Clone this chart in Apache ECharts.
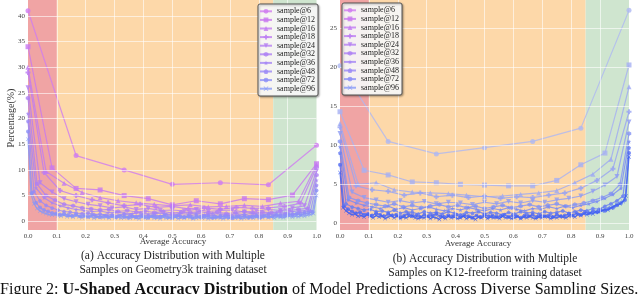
<!DOCTYPE html>
<html><head><meta charset="utf-8">
<script src="https://cdn.jsdelivr.net/npm/echarts@6/dist/echarts.min.js"></script>
<style>html,body{margin:0;padding:0;background:#fff}#c{width:640px;height:294px}</style>
</head><body><div id="c"></div>
<script>
// ---------- data ----------
const seriesNames = ['sample@6','sample@12','sample@16','sample@18','sample@24','sample@32','sample@36','sample@48','sample@72','sample@96'];
const xTicks = [0,0.1,0.2,0.3,0.4,0.5,0.6,0.7,0.8,0.9,1.0];
const yTicksA = [0,5,10,15,20,25,30,35,40];
const yTicksB = [0,5,10,15,20,25];
const regionBounds = [0,0.1,0.85,1.0];

// (a) Geometry3k
const geo6  = [41.0,12.8,10.0,7.2,7.5,7.1,14.8];
const geo12 = [34.0,10.4,6.4,6.1,5.0,4.4,3.2,4.0,3.4,4.4,4.2,5.1,11.2];
const geo16 = [30.0,9.7,7.4,5.6,4.6,4.0,3.6,3.3,3.0,3.2,2.8,2.9,3.1,2.9,3.5,3.9,11.0];
const geo18 = [29.0,9.5,6.0,5.0,4.2,3.6,3.0,3.3,2.7,2.9,2.4,2.6,2.3,2.7,2.5,2.6,2.9,3.5,10.5];
const geo24 = [26.0,7.5,5.7,4.4,3.8,3.3,3.0,2.6,2.8,2.3,2.5,2.1,2.2,2.0,2.3,1.9,2.1,2.2,1.8,2.0,2.3,2.1,2.6,3.0,9.8];
const geo32 = [24.0,7.3,5.0,4.1,3.3,3.0,2.6,2.4,2.2,2.3,1.9,2.1,1.8,2.0,1.7,1.9,1.6,1.8,1.7,1.9,1.6,1.8,1.5,1.7,1.9,1.6,1.8,1.7,2.0,2.1,2.3,2.5,9.0];
const geo36 = [21.0,6.5,4.6,3.6,3.0,2.6,2.3,2.1,1.9,2.0,1.7,1.8,1.6,1.5,1.7,1.4,1.6,1.5,1.3,1.5,1.4,1.6,1.3,1.5,1.4,1.2,1.5,1.3,1.6,1.4,1.5,1.7,1.6,1.9,2.0,2.2,8.0];
const geo48 = [19.5,5.8,4.0,3.1,2.6,2.2,1.9,1.8,1.6,1.5,1.6,1.3,1.4,1.2,1.3,1.1,1.4,1.2,1.0,1.3,1.1,1.2,1.0,1.3,1.1,1.2,0.9,1.1,1.3,1.0,1.2,1.1,0.9,1.2,1.0,1.1,1.3,1.0,1.2,1.1,1.4,1.2,1.3,1.5,1.4,1.7,1.8,2.0,7.0];
const geo72 = [17.5,5.5,3.6,2.7,2.2,1.9,1.6,1.5,1.3,1.4,1.2,1.1,1.3,1.0,1.1,0.9,1.2,1.0,0.8,1.1,0.9,1.0,0.8,1.1,0.9,0.7,1.0,0.8,1.0,0.9,0.7,1.0,0.8,0.9,1.1,0.8,0.7,1.0,0.9,0.8,1.0,0.7,0.9,0.8,1.0,0.9,0.7,0.8,1.0,0.9,0.8,0.6,0.9,0.8,1.0,0.7,0.9,1.0,0.8,1.1,0.9,1.0,1.2,1.0,1.1,1.3,1.2,1.4,1.3,1.5,1.6,1.8,6.0];
const geo96 = [16.0,5.3,3.4,2.5,2.0,1.7,1.5,1.3,1.2,1.3,1.1,1.0,1.2,0.9,1.0,0.8,1.1,0.9,0.7,1.0,
  0.8,0.9,0.6,0.8,1.0,0.7,0.8,0.6,0.9,0.7,0.8,0.6,0.7,0.9,0.6,0.8,0.7,0.5,0.8,0.6,
  0.7,0.9,0.6,0.7,0.5,0.8,0.6,0.7,0.6,0.8,0.5,0.7,0.6,0.8,0.7,0.5,0.6,0.8,0.6,0.7,
  0.5,0.7,0.6,0.8,0.6,0.5,0.7,0.6,0.8,0.6,0.7,0.5,0.6,0.8,0.7,0.6,0.8,0.6,0.7,0.9,
  0.7,0.8,0.6,0.9,0.8,0.7,0.9,1.0,0.8,1.0,0.9,1.1,1.0,1.2,1.3,1.5,5.0];

// (b) K12-freeform
const k6  = [20.2,10.5,8.9,9.7,10.5,12.2,27.3];
const k12 = [14.3,6.8,6.2,5.3,5.2,5.0,4.9,4.8,4.8,5.5,7.5,9.0,20.3];
const k16 = [12.8,5.0,5.2,4.3,4.0,3.9,3.8,3.6,3.4,3.5,3.7,3.9,4.2,5.2,6.3,8.2,17.5];
const k18 = [12.3,4.8,4.3,4.1,3.6,3.9,3.4,3.6,3.3,3.5,3.2,3.4,3.3,3.6,3.9,4.5,5.5,7.0,14.3];
const k24 = [11.5,4.0,3.3,3.0,2.7,2.9,2.6,2.8,2.5,2.7,2.6,2.4,2.7,2.5,2.8,2.6,2.9,2.7,3.0,3.2,3.5,4.1,4.9,6.0,13.0];
const k32 = [10.5,3.3,2.9,2.6,2.4,2.2,2.5,2.1,2.3,2.0,2.2,2.4,2.1,2.3,2.0,2.2,1.9,2.1,2.3,2.0,2.2,2.4,2.1,2.3,2.5,2.2,2.4,2.6,2.9,3.3,3.8,5.0,11.5];
const k36 = [9.8,3.0,2.6,2.3,2.1,1.9,2.2,1.8,2.0,1.7,1.9,2.1,1.8,1.6,1.9,1.7,2.0,1.8,1.6,1.9,1.7,2.0,1.8,1.6,1.9,1.8,2.1,1.9,2.2,2.0,2.3,2.5,2.8,3.2,3.7,4.5,10.5];
const k48 = [9.0,2.5,2.1,1.9,1.7,1.8,1.5,1.6,1.4,1.7,1.3,1.5,1.4,1.2,1.5,1.3,1.4,1.2,1.5,1.3,1.1,1.4,1.3,1.5,1.2,1.4,1.3,1.1,1.4,1.2,1.5,1.3,1.4,1.2,1.5,1.3,1.4,1.6,1.3,1.5,1.7,1.6,1.9,1.8,2.2,2.5,2.9,3.5,9.7];
const k72 = [7.5,2.2,1.8,1.5,1.3,1.4,1.1,1.2,1.0,1.3,1.1,0.9,1.2,1.0,1.1,0.8,1.0,1.2,0.9,1.0,0.8,1.1,0.9,1.0,1.2,0.9,0.8,1.0,0.9,1.1,0.8,1.0,0.9,0.7,1.0,0.8,1.1,0.9,1.0,0.8,0.9,1.1,0.8,1.0,0.9,0.7,1.0,0.9,1.1,0.8,1.0,0.9,1.0,0.8,1.1,0.9,1.0,1.2,1.0,1.3,1.1,1.4,1.3,1.5,1.4,1.7,1.6,1.9,2.0,2.3,2.6,3.0,9.0];
const k96 = [6.5,2.0,1.6,1.3,1.1,1.2,0.9,1.0,0.8,1.1,0.9,0.7,1.0,0.8,0.9,0.6,0.8,1.0,0.7,0.9,
  0.6,0.8,0.7,0.9,1.0,0.7,0.6,0.8,0.7,0.9,0.6,0.8,0.7,0.5,0.8,0.6,0.9,0.7,0.8,0.6,
  0.7,0.9,0.6,0.8,0.7,0.5,0.8,0.7,0.9,0.6,0.8,0.7,0.8,0.6,0.9,0.7,0.8,0.6,0.7,0.9,
  0.6,0.8,0.7,0.9,0.7,0.6,0.8,0.7,0.9,0.8,0.6,0.8,0.7,0.9,0.8,0.7,0.9,1.0,0.8,1.1,
  1.0,1.2,1.1,1.3,1.2,1.5,1.4,1.6,1.8,1.7,2.0,2.2,2.4,2.5,2.8,3.5,8.5];

const geoData = [geo6,geo12,geo16,geo18,geo24,geo32,geo36,geo48,geo72,geo96];
const k12Data = [k6,k12,k16,k18,k24,k32,k36,k48,k72,k96];

// ---------- styles ----------
const FONT = '"Liberation Serif", "DejaVu Serif", serif';
const colorsA = ['#d07cf0','#c878f0','#c27af2','#bc7cf2','#b47ef3','#ac80f4','#a484f5','#9a88f6','#8c8ef8','#8698f8'];
const colorsB = ['#aeb8f2','#a6b0f2','#9ea9f2','#97a3f2','#8e9cf2','#8494f2','#788af2','#687ef2','#526bf2','#3a5cf2'];
const symbols = [
  'circle','rect','triangle',
  'path://M3,0H7V3H10V7H7V10H3V7H0V3H3Z',
  'path://M0,0L10,0L5,9Z',
  'path://M5,0L9.3,2.5L9.3,7.5L5,10L0.7,7.5L0.7,2.5Z',
  'path://M5,0L6.2,3.6L10,3.8L7,6.1L8.1,9.8L5,7.6L1.9,9.8L3,6.1L0,3.8L3.8,3.6Z',
  'path://M5,0L10,3.6L8.1,9.5L1.9,9.5L0,3.6Z',
  'circle',
  'path://M0,1L1,0L5,4L9,0L10,1L6,5L10,9L9,10L5,6L1,10L0,9L4,5Z'
];
const symSizes = [5,5,5,5,5,4.5,4.5,4,4,4];
const regionColors = ['#f0a4a4','#fdd8a9','#cfe5cf'];

function toPairs(arr){ const n = arr.length - 1; return arr.map((v,i)=>[i/n, v]); }

function build(gi, data, colors, yTicks){
  const s = [];
  const areas = [];
  for (let i=0;i<regionBounds.length-1;i++){
    areas.push([{xAxis:regionBounds[i], itemStyle:{color:regionColors[i], opacity:1}},{xAxis:regionBounds[i+1]}]);
  }
  s.push({type:'line', xAxisIndex:gi, yAxisIndex:gi, data:[], z:1, silent:true,
    markArea:{silent:true, data:areas}});
  const gl = [];
  xTicks.slice(1,-1).forEach(v=>gl.push({xAxis:v}));
  yTicks.forEach(v=>gl.push({yAxis:v}));
  s.push({type:'line', xAxisIndex:gi, yAxisIndex:gi, data:[], z:2, silent:true,
    markLine:{silent:true, symbol:['none','none'], label:{show:false}, animation:false,
      lineStyle:{color:'#ffffff', width:1, type:'solid', opacity:0.6}, data:gl}});
  data.forEach((arr,i)=>{
    s.push({type:'line', name:seriesNames[i], xAxisIndex:gi, yAxisIndex:gi, z:3,
      data:toPairs(arr), symbol:symbols[i], symbolSize:symSizes[i], showAllSymbol:true,
      lineStyle:{color:colors[i], width:1.2, opacity:0.8},
      itemStyle:{color:colors[i], opacity:0.8}, animation:false});
  });
  return s;
}

const chart = echarts.init(document.getElementById('c'), null, {renderer:'canvas'});
const axisLbl = {fontFamily:FONT, fontSize:7, color:'#444'};
const option = {
  animation:false,
  grid:[
    {left:28, top:0, width:288.5, height:230},
    {left:340, top:0, width:289, height:230}
  ],
  xAxis:[0,1].map(gi=>({gridIndex:gi, type:'value', min:0, max:1, interval:0.1,
    axisLine:{show:false}, axisTick:{show:false}, splitLine:{show:false},
    axisLabel:Object.assign({margin:3, formatter:v=>v.toFixed(1)}, axisLbl)})),
  yAxis:[
    {gridIndex:0, type:'value', min:-1.7, max:43.1, axisLine:{show:false}, splitLine:{show:false},
     axisTick:{show:false, customValues:yTicksA},
     axisLabel:Object.assign({margin:3, customValues:yTicksA}, axisLbl)},
    {gridIndex:1, type:'value', min:-0.86, max:28.63, axisLine:{show:false}, splitLine:{show:false},
     axisTick:{show:false, customValues:yTicksB},
     axisLabel:Object.assign({margin:3, customValues:yTicksB}, axisLbl)}
  ],
  legend:[0,1].map(gi=>({
    data:seriesNames.map(n=>n), orient:'vertical', z:10,
    left: gi===0 ? 258 : 342, top: gi===0 ? 4 : 3,
    itemWidth:12, itemHeight:6, itemGap:0, padding:[3,3,3,1],
    backgroundColor:'rgba(255,255,255,0.9)', borderColor:'#555', borderWidth:1, borderRadius:2,
    shadowColor:'rgba(0,0,0,0.35)', shadowBlur:2, shadowOffsetX:1, shadowOffsetY:1,
    textStyle:{fontFamily:FONT, fontSize:8, color:'#222', lineHeight:8.6},
    selectedMode:false
  })),
  series:[].concat(build(0, geoData, colorsA, yTicksA), build(1, k12Data, colorsB, yTicksB)),
  graphic:[
    {type:'text', x:11.5, y:118, rotation:Math.PI/2, style:{text:'Percentage(%)', fontFamily:FONT, fontSize:10, fill:'#333', align:'center', verticalAlign:'middle'}},
    {type:'text', x:173, y:242, style:{text:'Average Accuracy', fontFamily:FONT, fontSize:9, fill:'#333', align:'center', verticalAlign:'middle'}},
    {type:'text', x:478, y:243.5, style:{text:'Average Accuracy', fontFamily:FONT, fontSize:9, fill:'#333', align:'center', verticalAlign:'middle'}},
    {type:'text', x:173, y:263.2, style:{text:'(a) Accuracy Distribution with Multiple\nSamples on Geometry3k training dataset', fontFamily:FONT, fontSize:11.5, lineHeight:13.5, fill:'#222', align:'center', verticalAlign:'middle'}},
    {type:'text', x:485, y:265.8, style:{text:'(b) Accuracy Distribution with Multiple\nSamples on K12-freeform training dataset', fontFamily:FONT, fontSize:11.5, lineHeight:14, fill:'#222', align:'center', verticalAlign:'middle'}},
    {type:'text', x:0, y:290, style:{text:'{n|Figure 2: }{b|U-Shaped Accuracy Distribution}{n| of Model Predictions Across Diverse Sampling Sizes.}',
      verticalAlign:'middle', align:'left',
      rich:{n:{fontFamily:FONT, fontSize:16.1, fill:'#111', color:'#111'}, b:{fontFamily:FONT, fontSize:16.1, fontWeight:'bold', fill:'#111', color:'#111'}}}}
  ]
};
chart.setOption(option);
</script>
</body></html>
